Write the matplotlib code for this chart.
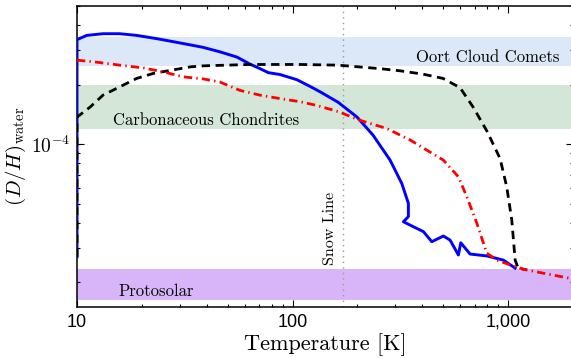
import matplotlib
matplotlib.use("Agg")
import matplotlib.pyplot as plt
from matplotlib.ticker import LogLocator, NullFormatter, FixedLocator

plt.rcParams["mathtext.fontset"] = "cm"
plt.rcParams["axes.unicode_minus"] = False

# D/H ratio of water vs temperature
blue_T = [10, 10, 11.1, 13.2, 15.8, 18.9, 23.4, 30.1, 38.4, 46.1, 55.1, 63.5, 70.6,
          77.2, 87.5, 104.6, 120.5, 134.2, 162.6, 199.3, 236.3, 283.5, 321.1, 344.6,
          344.6, 326.7, 363.6, 404.6, 442.6, 501, 538, 588, 603, 666, 796, 951, 1078]
blue_DH = [2.69e-5, 3.38e-4, 3.55e-4, 3.62e-4, 3.62e-4, 3.55e-4, 3.42e-4, 3.25e-4,
           3.09e-4, 2.93e-4, 2.76e-4, 2.54e-4, 2.41e-4, 2.30e-4, 2.25e-4, 2.12e-4,
           1.96e-4, 1.84e-4, 1.63e-4, 1.37e-4, 1.11e-4, 8.30e-5, 6.33e-5, 5.02e-5,
           4.30e-5, 4.05e-5, 3.82e-5, 3.61e-5, 3.21e-5, 3.43e-5, 3.27e-5, 2.75e-5,
           3.17e-5, 2.78e-5, 2.72e-5, 2.59e-5, 2.36e-5]

black_T = [10, 10, 11.5, 13.2, 15.8, 18.9, 22.6, 27.0, 33.5, 38.5, 63.5, 108.3, 162.6,
           254.7, 315.3, 403.3, 499.4, 598.7, 688, 799, 918, 986, 1040, 1078, 1113, 1221]
black_DH = [2.69e-5, 1.37e-4, 1.54e-4, 1.77e-4, 1.95e-4, 2.15e-4, 2.28e-4, 2.36e-4,
            2.46e-4, 2.49e-4, 2.53e-4, 2.53e-4, 2.51e-4, 2.41e-4, 2.35e-4, 2.26e-4,
            2.15e-4, 1.93e-4, 1.54e-4, 1.16e-4, 8.45e-5, 6.06e-5, 4.13e-5, 2.59e-5,
            2.36e-5, 2.31e-5]

red_T = [10, 12.3, 15.8, 20.3, 25.2, 31.1, 38.4, 46.1, 57.1, 70.6, 87.5, 108.3, 129.5,
         163.2, 205.7, 273.6, 351, 419.5, 501, 588, 643, 716, 796, 886, 1022, 1178,
         1408, 2000]
red_DH = [2.66e-4, 2.60e-4, 2.51e-4, 2.43e-4, 2.32e-4, 2.19e-4, 2.14e-4, 2.06e-4,
          1.87e-4, 1.77e-4, 1.70e-4, 1.64e-4, 1.57e-4, 1.46e-4, 1.32e-4, 1.20e-4,
          1.05e-4, 9.33e-5, 8.30e-5, 6.84e-5, 5.42e-5, 3.98e-5, 2.81e-5, 2.59e-5,
          2.45e-5, 2.33e-5, 2.24e-5, 2.08e-5]

# reference ranges (low, high)
oort_band = (2.48e-4, 3.47e-4)
chondrite_band = (1.2e-4, 2.0e-4)
protosolar_band = (1.63e-5, 2.34e-5)
snow_line_T = 171

fig = plt.figure(figsize=(5.71, 3.58), dpi=100)
ax = fig.add_axes([77 / 571, 51 / 358, 496 / 571, 301 / 358])
ax.set_xscale("log")
ax.set_yscale("log")
ax.set_xlim(10, 2000)
ax.set_ylim(1.5e-5, 5e-4)

ax.axhspan(*oort_band, color="#dce8f7", lw=0, zorder=0)
ax.axhspan(*chondrite_band, color="#d4e6d8", lw=0, zorder=0)
ax.axhspan(*protosolar_band, color="#d8b5f8", lw=0, zorder=0)
ax.axvline(snow_line_T, color="#999999", lw=1, ls=(0, (1, 3)), zorder=1)

ax.plot(blue_T, blue_DH, color="#0000ff", lw=2.1, zorder=3)
ax.plot(black_T, black_DH, color="black", lw=2, ls=(0, (3, 2)), zorder=4)
ax.plot(red_T, red_DH, color="#ff0000", lw=2, ls=(0, (3, 1.5, 0.5, 1.5)), zorder=5)

cm = dict(family="cmr10", fontsize=12)
ax.text(1740, 2.75e-4, "Oort Cloud Comets", ha="right", va="center", **cm)
ax.text(14.7, 1.32e-4, "Carbonaceous Chondrites", ha="left", va="center", **cm)
ax.text(15.5, 1.81e-5, "Protosolar", ha="left", va="center", **cm)
ax.text(150, 3.75e-5, "Snow Line", ha="center", va="center", rotation=90,
        family="cmr10", fontsize=11.5)

ax.set_xlabel("Temperature [K]", family="cmr10", fontsize=16, labelpad=2)
ax.set_ylabel(r"$(D/H)_{\rm water}$", fontsize=15, labelpad=2)

ax.xaxis.set_major_locator(FixedLocator([10, 100, 1000]))
ax.set_xticklabels(["10", "100", "1,000"], family="Liberation Sans", fontsize=13)
ax.xaxis.set_minor_locator(LogLocator(base=10, subs=range(2, 10)))
ax.xaxis.set_minor_formatter(NullFormatter())
ax.yaxis.set_major_locator(FixedLocator([1e-4]))
ax.set_yticklabels([r"$\mathsf{10^{-4}}$"], fontsize=14)
ax.yaxis.set_minor_locator(LogLocator(base=10, subs=range(2, 10)))
ax.yaxis.set_minor_formatter(NullFormatter())
ax.tick_params(which="both", direction="in", top=True, right=True, width=0.8)
ax.tick_params(which="major", length=5, pad=5)
ax.tick_params(which="minor", length=2.5)
for s in ax.spines.values():
    s.set_linewidth(1.1)

fig.savefig("out.png", dpi=100)
